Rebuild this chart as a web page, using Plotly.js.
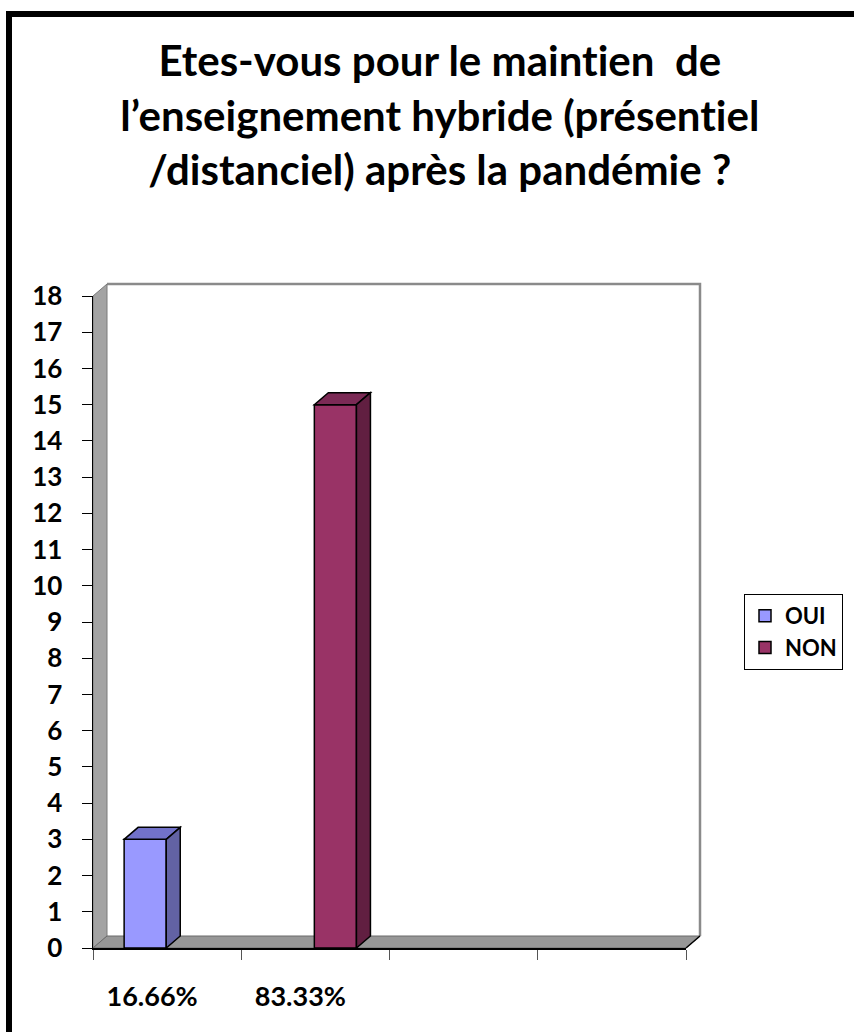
<!DOCTYPE html>
<html><head><meta charset="utf-8">
<script src="https://cdn.plot.ly/plotly-3.0.1.min.js"></script>
<style>html,body{margin:0;padding:0;background:#fff;}#chart{width:854px;height:1032px;}
svg text{font-variant-ligatures:none;font-feature-settings:"liga" 0,"clig" 0;}</style>
</head><body><div id="chart"></div>
<script>
// ---- data ----
const categories = ['16.66%', '83.33%', '', ''];
const seriesNames = ['OUI', 'NON'];
const ouiValues = [3, null, null, null];
const nonValues = [null, 15, null, null];
const yTickValues = [0,1,2,3,4,5,6,7,8,9,10,11,12,13,14,15,16,17,18];
const titleText = 'Etes-vous pour le maintien  de<br>l\u2019enseignement hybride (présentiel<br>/distanciel) après la pandémie ?';

// ---- styles ----
const W = 854, H = 1032;
const M = {l: 93, r: 168, t: 296, b: 84, autoexpand: false};
const plotW = W - M.l - M.r, plotH = H - M.t - M.b;
const xRange = [-0.5, 3.5], yRange = [0, 18];
const DX = 14, DY = 12;              // 3D depth in px
const FONT = 'Lato, "Open Sans", sans-serif';
const styles = [
  {front: '#9999FF', top: '#7272C9', side: '#6262A4', offset: -0.29, width: 0.284},
  {front: '#993366', top: '#7B2A55', side: '#611F41', offset: -0.007, width: 0.284}
];
const seriesValues = [ouiValues, nonValues];

const xIdx = categories.map((c, i) => i);
const pxPerX = plotW / (xRange[1] - xRange[0]);
const pxPerY = plotH / (yRange[1] - yRange[0]);
const dxU = DX / pxPerX, dyU = DY / pxPerY;

// pixel -> paper helpers for decorations
const px = v => (v - M.l) / plotW;
const py = v => (H - M.b - v) / plotH;
function paperPath(pts) {
  return 'M' + pts.map(p => px(p[0]) + ',' + py(p[1])).join(' L') + ' Z';
}
const fx0 = M.l, fx1 = W - M.r, fy0 = H - M.b, fy1 = M.t;

const shapes = [];
// back wall
shapes.push({type: 'rect', xref: 'paper', yref: 'paper', layer: 'below',
  x0: px(fx0 + DX), x1: px(fx1 + DX), y0: py(fy0 - DY), y1: py(fy1 - DY),
  fillcolor: '#ffffff', line: {width: 0}});
shapes.push({type: 'path', xref: 'paper', yref: 'paper', layer: 'below',
  path: 'M' + px(fx0 + DX) + ',' + py(fy1 - DY) + ' L' + px(fx1 + DX) + ',' + py(fy1 - DY) + ' L' + px(fx1 + DX) + ',' + py(fy0 - DY),
  line: {color: '#8a8a8a', width: 2.5}});
// left wall
shapes.push({type: 'path', xref: 'paper', yref: 'paper', layer: 'below',
  path: paperPath([[fx0, fy0], [fx0, fy1], [fx0 + DX, fy1 - DY], [fx0 + DX, fy0 - DY]]),
  fillcolor: '#a3a3a3', line: {color: '#7a7a7a', width: 1}});
// floor
shapes.push({type: 'path', xref: 'paper', yref: 'paper', layer: 'below',
  path: paperPath([[fx0, fy0], [fx1, fy0], [fx1 + DX, fy0 - DY], [fx0 + DX, fy0 - DY]]),
  fillcolor: '#979797', line: {color: '#6a6a6a', width: 1}});
// floor right diagonal (black)
shapes.push({type: 'line', xref: 'paper', yref: 'paper', layer: 'above',
  x0: px(fx1), y0: py(fy0), x1: px(fx1 + DX), y1: py(fy0 - DY), line: {color: '#000', width: 1.5}});
// outer border (left and top)
shapes.push({type: 'rect', xref: 'paper', yref: 'paper', layer: 'above',
  x0: px(6), x1: px(12), y0: py(H + 5), y1: py(11), fillcolor: '#000', line: {width: 0}});
shapes.push({type: 'rect', xref: 'paper', yref: 'paper', layer: 'above',
  x0: px(6), x1: px(W + 5), y0: py(17), y1: py(11), fillcolor: '#000', line: {width: 0}});

// 3D top and side faces for each bar, from data values
seriesValues.forEach((vals, s) => {
  const st = styles[s];
  vals.forEach((v, i) => {
    if (v === null) return;
    const xl = xIdx[i] + st.offset, xr = xl + st.width;
    shapes.push({type: 'path', xref: 'x', yref: 'y', layer: 'above',
      path: `M${xl},${v} L${xr},${v} L${xr + dxU},${v + dyU} L${xl + dxU},${v + dyU} Z`,
      fillcolor: st.top, line: {color: '#000', width: 1.5}});
    shapes.push({type: 'path', xref: 'x', yref: 'y', layer: 'above',
      path: `M${xr},0 L${xr},${v} L${xr + dxU},${v + dyU} L${xr + dxU},${dyU} Z`,
      fillcolor: st.side, line: {color: '#000', width: 1.5}});
  });
});

const traces = seriesValues.map((vals, s) => ({
  type: 'bar', name: seriesNames[s], x: xIdx, y: vals,
  offset: styles[s].offset, width: styles[s].width,
  marker: {color: styles[s].front, line: {color: '#000', width: 1.5}},
  hoverinfo: 'skip'
}));

const layout = {
  width: W, height: H, margin: M,
  paper_bgcolor: '#ffffff', plot_bgcolor: 'rgba(0,0,0,0)',
  font: {family: FONT, color: '#000'},
  title: {text: titleText, x: 0.515, xref: 'container', xanchor: 'center',
    y: 1 - 76 / H, yref: 'container', yanchor: 'top',
    font: {family: FONT, size: 42, weight: 700, color: '#000'}},
  barmode: 'overlay',
  showlegend: true,
  legend: {x: px(744), y: py(594), xanchor: 'left', yanchor: 'top',
    bordercolor: '#000', borderwidth: 1, bgcolor: '#fff',
    font: {family: FONT, size: 22, weight: 700, color: '#000'}},
  xaxis: {range: xRange, showgrid: false, zeroline: false, fixedrange: true,
    showline: true, linecolor: '#000', linewidth: 1.5,
    tickmode: 'array', tickvals: xIdx, ticktext: categories, ticks: '', ticklabelstandoff: 24,
    ticklabelshift: -15,
    tickfont: {family: FONT, size: 27, weight: 700, color: '#000'},
    minor: {tickmode: 'array', tickvals: [-0.5, 0.5, 1.5, 2.5, 3.5], ticks: 'outside', ticklen: 10, tickcolor: '#555', tickwidth: 1, showgrid: false}},
  yaxis: {range: yRange, showgrid: false, zeroline: false, fixedrange: true,
    showline: true, linecolor: '#000', linewidth: 1.5,
    tickmode: 'array', tickvals: yTickValues, ticks: 'outside', ticklen: 10, tickcolor: '#000', tickwidth: 1,
    ticklabelstandoff: 14,
    tickfont: {family: FONT, size: 26, weight: 700, color: '#000'}},
  shapes: shapes
};

Plotly.newPlot('chart', traces, layout, {displayModeBar: false, staticPlot: true});
</script>
</body></html>
